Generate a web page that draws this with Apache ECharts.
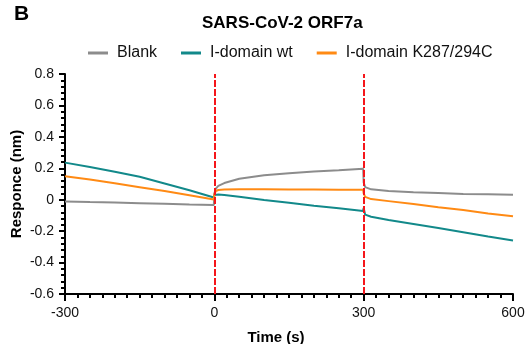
<!DOCTYPE html>
<html lang="en">
<head>
    <meta charset="UTF-8">
    <title>SARS-CoV-2 ORF7a</title>
    <script src="https://cdn.jsdelivr.net/npm/echarts@6/dist/echarts.min.js"></script>
    <style>
        html, body { margin: 0; padding: 0; background: #fff; }
    </style>
</head>
<body>
<div id="content" style="width: 525px; height: 344px;"></div>
<script>
    // time points (s) shared by all three traces
    var times = [-300, -250, -200, -150, -100, -50, -1, 0, 3, 8, 20, 50, 100, 150, 200, 250, 299,
                 300, 303, 315, 350, 400, 450, 500, 550, 600];

    // responce (nm)
    var blank = [-0.011, -0.015, -0.018, -0.022, -0.026, -0.030, -0.033, 0.040, 0.070, 0.088, 0.106, 0.133, 0.155, 0.169, 0.180, 0.188, 0.197,
                 0.110, 0.080, 0.066, 0.055, 0.047, 0.042, 0.037, 0.034, 0.031];
    var wt = [0.236, 0.208, 0.178, 0.146, 0.103, 0.060, 0.014, 0.030, 0.034, 0.033, 0.030, 0.019, -0.002, -0.020, -0.039, -0.055, -0.072,
              -0.052, -0.095, -0.108, -0.129, -0.154, -0.180, -0.207, -0.234, -0.260];
    var k287 = [0.149, 0.128, 0.105, 0.080, 0.055, 0.028, 0.002, 0.035, 0.055, 0.062, 0.065, 0.066, 0.066, 0.065, 0.065, 0.064, 0.063,
                0.040, 0.018, 0.004, -0.009, -0.028, -0.048, -0.066, -0.087, -0.105];

    var seriesNames = ['Blank', 'I-domain wt', 'I-domain K287/294C'];
    var seriesColors = ['#8c8c8c', '#12898a', '#ff8a14'];
    var phaseMarks = [0, 300];

    function pairs(vals) {
        return times.map(function (t, i) { return [t, vals[i]]; });
    }

    var myChart = echarts.init(document.getElementById('content'));
    var font = 'Liberation Sans, Arial, sans-serif';

    var option = {
        animation: false,
        title: [
            { text: 'B', left: 9, top: -1, textStyle: { fontFamily: font, fontSize: 21, fontWeight: 'bold', color: '#000' } },
            { text: 'SARS-CoV-2 ORF7a', left: 197, top: 10, textStyle: { fontFamily: font, fontSize: 17, fontWeight: 'bold', color: '#000' } }
        ],
        legend: {
            data: seriesNames,
            left: 83,
            top: 40,
            icon: 'rect',
            itemWidth: 20,
            itemHeight: 3,
            itemGap: 24,
            textStyle: { fontFamily: font, fontSize: 16, color: '#111', padding: [0, 0, 0, 4] }
        },
        grid: { left: 65, right: 12, top: 74, bottom: 50, outerBoundsMode: 'none' },
        xAxis: {
            type: 'value',
            min: -300, max: 600, interval: 300,
            name: 'Time (s)',
            nameLocation: 'middle',
            nameGap: 36,
            nameMoveOverlap: false,
            nameTextStyle: { fontFamily: font, fontSize: 15, fontWeight: 'bold', color: '#000', padding: [0, 26, 0, 0] },
            axisLine: { onZero: false, lineStyle: { color: '#000', width: 2 } },
            axisTick: { show: true, length: 7, lineStyle: { color: '#000', width: 2 } },
            minorTick: { show: true, splitNumber: 12, length: 4, lineStyle: { color: '#000', width: 2 } },
            axisLabel: { fontFamily: font, fontSize: 14, color: '#111', margin: 12 },
            splitLine: { show: false }
        },
        yAxis: {
            type: 'value',
            min: -0.6, max: 0.8, interval: 0.2,
            name: 'Responce (nm)',
            nameLocation: 'middle',
            nameGap: 41,
            nameMoveOverlap: false,
            nameTextStyle: { fontFamily: font, fontSize: 15, fontWeight: 'bold', color: '#000' },
            axisLine: { show: true, onZero: false, lineStyle: { color: '#000', width: 2 } },
            axisTick: { show: true, length: 6, lineStyle: { color: '#000', width: 2 } },
            minorTick: { show: true, splitNumber: 5, length: 4, lineStyle: { color: '#000', width: 2 } },
            axisLabel: { fontFamily: font, fontSize: 14, color: '#111', margin: 11 },
            splitLine: { show: false }
        },
        series: [
            {
                name: seriesNames[0], type: 'line', data: pairs(blank),
                showSymbol: false, color: seriesColors[0], lineStyle: { width: 2 }
            },
            {
                name: seriesNames[1], type: 'line', data: pairs(wt),
                showSymbol: false, color: seriesColors[1], lineStyle: { width: 2 }
            },
            {
                name: seriesNames[2], type: 'line', data: pairs(k287),
                showSymbol: false, color: seriesColors[2], lineStyle: { width: 2 },
                markLine: {
                    silent: true,
                    symbol: 'none',
                    label: { show: false },
                    lineStyle: { color: '#f5161b', width: 2, type: [7, 2] },
                    data: phaseMarks.map(function (x) { return { xAxis: x }; })
                }
            }
        ]
    };
    myChart.setOption(option);
</script>
</body>
</html>
